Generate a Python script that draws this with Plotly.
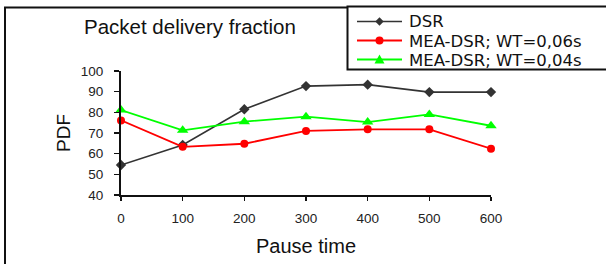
import plotly.graph_objects as go

# ---- data ----
pause_time = [0, 100, 200, 300, 400, 500, 600]
dsr = [54.5, 64.2, 81.5, 92.7, 93.4, 89.8, 89.8]
mea_dsr_006 = [76.1, 63.3, 64.8, 71.0, 71.8, 71.8, 62.4]
mea_dsr_004 = [81.1, 71.3, 75.5, 77.9, 75.3, 79.0, 73.5]
series_names = ["DSR", "MEA-DSR; WT=0,06s", "MEA-DSR; WT=0,04s"]
x_ticks = [0, 100, 200, 300, 400, 500, 600]
y_ticks = [40, 50, 60, 70, 80, 90, 100]

W, H = 606, 264
ML, MR, MT, MB = 121, 115, 71, 69
PW, PH = W - ML - MR, H - MT - MB

def px(x):
    return (x - ML) / PW

def py(y):
    return (H - MB - y) / PH

FONT = "Liberation Sans, Arial, sans-serif"
LEG_FONT = "DejaVu Sans, Liberation Sans, sans-serif"
styles = [
    dict(color="#333333", symbol="diamond", size=8, width=1.6),
    dict(color="#ff0000", symbol="circle", size=8, width=1.8),
    dict(color="#00ff00", symbol="triangle-up", size=10, width=1.8),
]
values = [dsr, mea_dsr_006, mea_dsr_004]

fig = go.Figure()
for name, vals, st in zip(series_names, values, styles):
    fig.add_trace(go.Scatter(
        x=pause_time, y=vals, name=name, mode="lines+markers",
        line=dict(color=st["color"], width=st["width"]),
        marker=dict(color=st["color"], symbol=st["symbol"], size=st["size"]),
        cliponaxis=False, showlegend=False,
    ))

shapes = []
# outer frame (extends beyond the picture on the right and bottom)
shapes.append(dict(type="rect", xref="paper", yref="paper",
                   x0=px(5), x1=px(640), y0=py(300), y1=py(7.5),
                   line=dict(color="#111111", width=2), fillcolor="rgba(0,0,0,0)", layer="below"))
# legend box
shapes.append(dict(type="rect", xref="paper", yref="paper",
                   x0=px(347.5), x1=px(640), y0=py(69.5), y1=py(6.5),
                   line=dict(color="#111111", width=2), fillcolor="white", layer="below"))

annotations = []
row_y = [21.5, 40.5, 59.5]
for name, st, ry in zip(series_names, styles, row_y):
    shapes.append(dict(type="line", xref="paper", yref="paper",
                       x0=px(357), x1=px(402), y0=py(ry), y1=py(ry),
                       line=dict(color=st["color"], width=st["width"])))
    cx = 379.5
    if st["symbol"] == "diamond":
        r = 4.2
        pts = [(cx, ry - r), (cx + r, ry), (cx, ry + r), (cx - r, ry)]
    elif st["symbol"] == "circle":
        r = 4.0
        shapes.append(dict(type="circle", xref="paper", yref="paper",
                           x0=px(cx - r), x1=px(cx + r), y0=py(ry + r), y1=py(ry - r),
                           fillcolor=st["color"], line=dict(color=st["color"], width=0)))
        pts = None
    else:
        r = 5.0
        pts = [(cx, ry - r), (cx + r, ry + r * 0.8), (cx - r, ry + r * 0.8)]
    if pts:
        path = "M " + " L ".join(f"{px(a):.5f},{py(b):.5f}" for a, b in pts) + " Z"
        shapes.append(dict(type="path", xref="paper", yref="paper", path=path,
                           fillcolor=st["color"], line=dict(color=st["color"], width=0)))
    annotations.append(dict(text=name, xref="paper", yref="paper",
                            x=px(408), y=py(ry + 0.5), xanchor="left", yanchor="middle",
                            borderpad=0,
                            showarrow=False, font=dict(family=LEG_FONT, size=16.5, color="#111111")))

annotations.append(dict(text="Packet delivery fraction", xref="paper", yref="paper",
                        x=px(190), y=py(26.5), xanchor="center", yanchor="middle",
                        showarrow=False, font=dict(family=FONT, size=20.5, color="#111111")))

fig.update_layout(
    width=W, height=H,
    margin=dict(l=ML, r=MR, t=MT, b=MB, autoexpand=False),
    paper_bgcolor="white", plot_bgcolor="white",
    font=dict(family=FONT, color="#111111"),
    shapes=shapes, annotations=annotations,
    showlegend=False,
)
fig.update_xaxes(
    range=[0, 600], tickvals=x_ticks, ticktext=[str(v) for v in x_ticks],
    showgrid=False, zeroline=False, showline=True, linecolor="#111111", linewidth=2,
    ticks="outside", ticklen=4, tickwidth=1.5, tickcolor="#111111",
    tickfont=dict(family=FONT, size=13.5, color="#222222"), ticklabelstandoff=6,
    title=dict(text="Pause time", font=dict(family=FONT, size=20, color="#111111"), standoff=14),
)
fig.update_yaxes(
    range=[40, 100], tickvals=y_ticks, ticktext=[str(v) for v in y_ticks],
    showgrid=False, zeroline=False, showline=True, linecolor="#111111", linewidth=2,
    ticks="outside", ticklen=5, tickwidth=1.5, tickcolor="#111111",
    tickfont=dict(family=FONT, size=13.5, color="#222222"), ticklabelstandoff=8,
    title=dict(text="PDF", font=dict(family=FONT, size=19, color="#111111"), standoff=5),
)

fig.write_html("out.html",
               config={"displayModeBar": False, "staticPlot": True},
               post_script="document.body.style.margin='0px';document.body.style.overflow='hidden';")
